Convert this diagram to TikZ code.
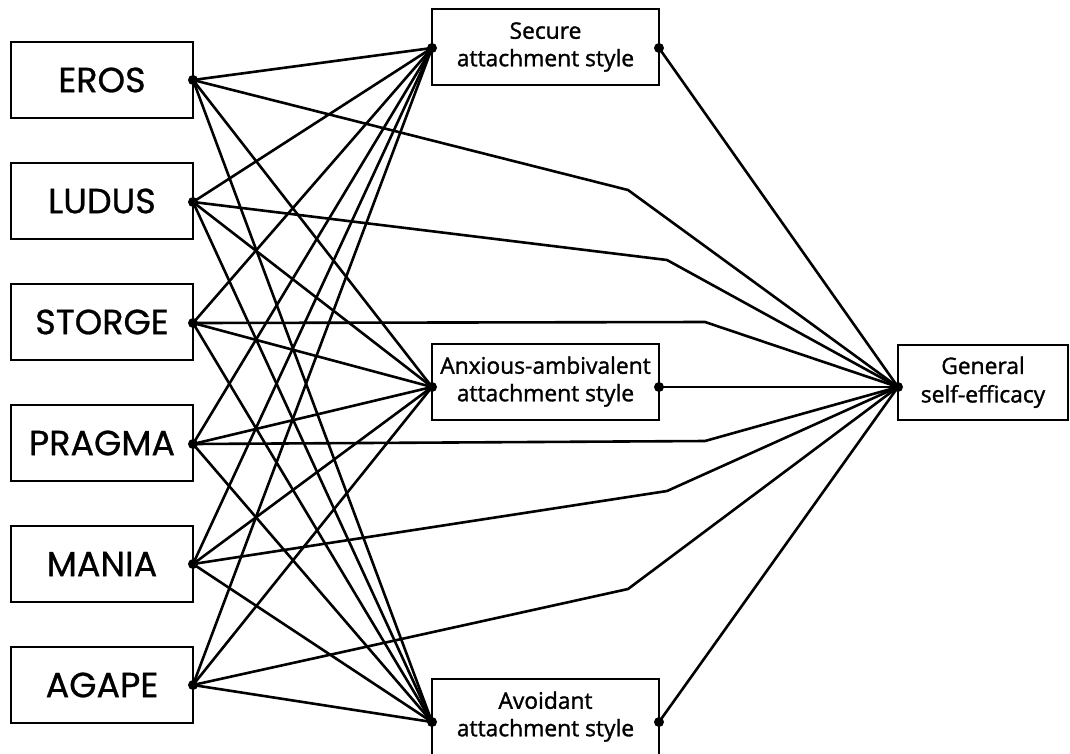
\documentclass[tikz,border=0pt]{standalone}
\usepackage{fontspec}
\newfontfamily\leftfont[FakeBold=0.8]{Poppins}
\newfontfamily\midfont[FakeBold=1.4]{Open Sans}
\newcommand\twolines[2]{\raisebox{-7pt}{\begin{tabular}{@{}c@{}}#1\\#2\end{tabular}}}
\begin{document}
\begin{tikzpicture}[x=1pt,y=-1pt,
  lbox/.style={draw, line width=2.6pt, minimum width=182pt, minimum height=76pt, inner sep=0pt, font=\leftfont\fontsize{35}{37}\selectfont},
  mbox/.style={draw, line width=2.6pt, minimum width=227pt, minimum height=76pt, inner sep=0pt, font=\midfont\fontsize{22.8}{27.5}\selectfont},
  gbox/.style={draw, line width=2.6pt, minimum width=170pt, minimum height=75pt, inner sep=0pt, font=\midfont\fontsize{22.8}{28.5}\selectfont},
  dotc/.style={circle, fill, inner sep=0pt, minimum size=10pt},
  link/.style={line width=2.6pt, line join=round}]
\useasboundingbox (0,0) rectangle (1070,753);
% left boxes
\node[lbox] (eros) at (102,80) {EROS};
\node[lbox] (ludus) at (102,201) {LUDUS};
\node[lbox] (storge) at (102,322) {STORGE};
\node[lbox] (pragma) at (102,443) {PRAGMA};
\node[lbox] (mania) at (102,564) {MANIA};
\node[lbox] (agape) at (102,685) {AGAPE};
% middle boxes
\node[mbox] (sec) at (545.5,47) {\twolines{Secure}{attachment style}};
\node[mbox] (anx) at (545.5,382) {\twolines{Anxious-ambivalent}{attachment style}};
\node[mbox] (avo) at (545.5,717) {\twolines{Avoidant}{attachment style}};
% right box
\node[gbox] (gen) at (983,382.5) {\twolines{General}{self-efficacy}};
% connection points
\coordinate (eo) at (193,80);
\coordinate (lo) at (193,202);
\coordinate (so) at (193,323);
\coordinate (po) at (193,444);
\coordinate (mo) at (193,564);
\coordinate (ao) at (193,685);
\coordinate (si) at (432,48);
\coordinate (sr) at (659,48);
\coordinate (ai) at (432,387);
\coordinate (ar) at (659,387);
\coordinate (vi) at (432,722);
\coordinate (vr) at (659,722);
\coordinate (gi) at (898,387);
% kinks
\coordinate (ke) at (628,190);
\coordinate (kl) at (667,260);
\coordinate (ks) at (705,322);
\coordinate (kp) at (705,441);
\coordinate (km) at (667,491);
\coordinate (ka) at (628,589);
% left to middle
\foreach \s in {eo,lo,so,po,mo,ao}{
  \foreach \t in {si,ai,vi}{
    \draw[link] (\s) -- (\t);
  }
}
% left to general (bent)
\draw[link] (eo) -- (ke) -- (gi);
\draw[link] (lo) -- (kl) -- (gi);
\draw[link] (so) -- (ks) -- (gi);
\draw[link] (po) -- (kp) -- (gi);
\draw[link] (mo) -- (km) -- (gi);
\draw[link] (ao) -- (ka) -- (gi);
% middle to general
\draw[link] (sr) -- (gi);
\draw[link] (ar) -- (gi);
\draw[link] (vr) -- (gi);
% dots
\foreach \p in {eo,lo,so,po,mo,ao,si,sr,ai,ar,vi,vr,gi}{
  \node[dotc] at (\p) {};
}
\end{tikzpicture}
\end{document}
